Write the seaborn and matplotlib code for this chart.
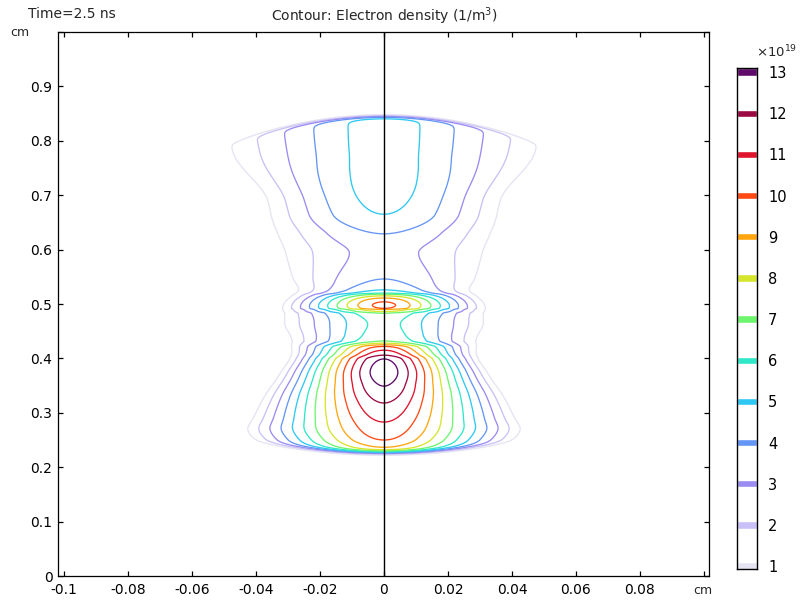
import numpy as np
import matplotlib
matplotlib.use("Agg")
import matplotlib.pyplot as plt
import seaborn as sns

# ---------------- data ----------------
levels = [1, 2, 3, 4, 5, 6, 7, 8, 9, 10, 11, 12, 13]
level_colors = ["#e4e4f2", "#c9c0f7", "#9a8cf0", "#6496f5", "#2ec8f2", "#2ee8c8",
                "#6ef56e", "#d6e62c", "#ffa60f", "#ff4a14", "#e0142d", "#9c0a45", "#5f0a6b"]

# on-axis electron density (1e19 / m^3) versus z (cm)
axis_z = [0.200, 0.225, 0.237, 0.250, 0.283, 0.318, 0.349, 0.375, 0.399, 0.406, 0.415,
          0.422, 0.425, 0.428, 0.432, 0.445, 0.462, 0.483, 0.486, 0.490, 0.492, 0.498,
          0.504, 0.511, 0.515, 0.518, 0.520, 0.526, 0.546, 0.595, 0.629, 0.665, 0.720,
          0.800, 0.900]
axis_n = [8.6, 8.8, 9.2, 10.0, 11.0, 12.0, 13.0, 13.6, 13.0, 12.0, 11.0,
          10.0, 9.0, 8.0, 7.0, 6.5, 6.3, 7.0, 8.0, 9.0, 10.0, 10.3,
          10.0, 9.0, 8.0, 7.0, 6.0, 5.0, 4.0, 3.35, 4.0, 5.0, 5.4,
          5.5, 5.5]

# radial edge of the plasma column (cm) versus z (cm)
edge_z = [0.20, 0.23, 0.25, 0.27, 0.29, 0.33, 0.373, 0.41, 0.44, 0.465, 0.498, 0.525,
          0.546, 0.60, 0.64, 0.69, 0.78, 0.85, 0.90]
edge_r = [0.040, 0.041, 0.044, 0.046, 0.044, 0.040, 0.0345, 0.031, 0.033, 0.0356, 0.0342,
          0.031, 0.034, 0.0385, 0.040, 0.0415, 0.0555, 0.058, 0.058]

# radial rounding scale of the profile (cm) versus z (cm)
core_z = [0.20, 0.29, 0.373, 0.41, 0.44, 0.498, 0.546, 0.60, 0.69, 0.78, 0.90]
core_r = [0.014, 0.012, 0.007, 0.007, 0.010, 0.008, 0.022, 0.028, 0.028, 0.013, 0.013]

# streamer fronts: z at axis, curvature, thickness
top_front = (0.845, 21.0, 0.004)
bottom_front = (0.227, 12.0, 0.005)

x_ticks = [-0.1, -0.08, -0.06, -0.04, -0.02, 0, 0.02, 0.04, 0.06, 0.08, 0.1]
x_labels = ["-0.1", "-0.08", "-0.06", "-0.04", "-0.02", "0", "0.02", "0.04", "0.06", "0.08", ""]
y_ticks = [0, 0.1, 0.2, 0.3, 0.4, 0.5, 0.6, 0.7, 0.8, 0.9, 1.0]
y_labels = ["0", "0.1", "0.2", "0.3", "0.4", "0.5", "0.6", "0.7", "0.8", "0.9", ""]


def pchip(xk, yk, x):
    xk = np.asarray(xk, float)
    yk = np.asarray(yk, float)
    h = np.diff(xk)
    d = np.diff(yk) / h
    m = np.zeros_like(yk)
    m[0], m[-1] = d[0], d[-1]
    for k in range(1, len(xk) - 1):
        if d[k - 1] * d[k] > 0:
            w1 = 2 * h[k] + h[k - 1]
            w2 = h[k] + 2 * h[k - 1]
            m[k] = (w1 + w2) / (w1 / d[k - 1] + w2 / d[k])
    x = np.clip(x, xk[0], xk[-1])
    i = np.clip(np.searchsorted(xk, x) - 1, 0, len(xk) - 2)
    t = (x - xk[i]) / h[i]
    h00 = 2 * t**3 - 3 * t**2 + 1
    h10 = t**3 - 2 * t**2 + t
    h01 = -2 * t**3 + 3 * t**2
    h11 = t**3 - t**2
    return h00 * yk[i] + h10 * h[i] * m[i] + h01 * yk[i + 1] + h11 * h[i] * m[i + 1]


# ---------------- field ----------------
xs = np.linspace(-0.102, 0.102, 1400)
zs = np.linspace(0.0, 1.0, 1600)
X, Z = np.meshgrid(xs, zs)
R = np.abs(X)
A = pchip(axis_z, axis_n, zs)[:, None]
Re = pchip(edge_z, edge_r, zs)[:, None]
r0 = pchip(core_z, core_r, zs)[:, None]
hr = np.sqrt(R**2 + r0**2) - r0
hre = np.sqrt(Re**2 + r0**2) - r0
N = A * (1 - hr / hre)
zf = top_front[0] - top_front[1] * R**2
zb = bottom_front[0] + bottom_front[1] * R**2
N = N * 0.5 * (1 - np.tanh((Z - zf) / top_front[2])) * 0.5 * (1 + np.tanh((Z - zb) / bottom_front[2]))

# ---------------- figure ----------------
sns.set_theme(style="ticks")
plt.rcParams["font.family"] = ["DejaVu Sans"]
palette = sns.color_palette(level_colors)

W, H = 801, 603
fig = plt.figure(figsize=(W / 100, H / 100), dpi=100)
ax = fig.add_axes([58 / W, (H - 576) / H, 651 / W, 544 / H])
ax.contour(X, Z, N, levels=levels, colors=palette, linewidths=0.95)
ax.axvline(0, color="black", lw=1.0, zorder=5)
ax.set_xlim(-0.1019, 0.1016)
ax.set_ylim(0, 0.9993)
ax.set_xticks(x_ticks)
ax.set_xticklabels(x_labels)
ax.set_yticks(y_ticks)
ax.set_yticklabels(y_labels)
ax.tick_params(direction="in", length=3.5, width=0.9, top=True, right=True,
               labelsize=10, colors="black")
ax.tick_params(axis="x", pad=5)
ax.tick_params(axis="y", pad=4)
for s in ax.spines.values():
    s.set_linewidth(0.9)
    s.set_color("black")
ax.set_xlabel("")
ax.set_ylabel("")

fig.text(384 / W, 1 - 16 / H, "Contour: Electron density (1/m$^3$)", ha="center", va="center",
         fontsize=10)
fig.text(28 / W, 1 - 14 / H, "Time=2.5 ns", ha="left", va="center", fontsize=10)
fig.text(10 / W, 1 - 32 / H, "cm", ha="left", va="center", fontsize=9)
fig.text(703 / W, 1 - 591 / H, "cm", ha="center", va="center", fontsize=9)

# colour legend
cax = fig.add_axes([737 / W, (H - 569) / H, 20 / W, 501 / H])
cax.barh(levels, 1.0, height=0.18, left=0, color=palette)
cax.set_xlim(0, 1)
cax.set_ylim(0.93, 13.1)
cax.set_yticks(levels)
cax.set_yticklabels([str(v) for v in levels])
cax.set_xticks([])
cax.tick_params(axis="y", which="both", left=True, right=True, labelleft=False,
                labelright=True, direction="in", length=3, width=1.0, pad=8,
                labelsize=10.5, colors="black")
for s in cax.spines.values():
    s.set_linewidth(1.0)
    s.set_color("black")
fig.text(797 / W, 1 - 52 / H, "×10$^{19}$", ha="right", va="center", fontsize=9.5)

fig.savefig("out.png", dpi=100)
